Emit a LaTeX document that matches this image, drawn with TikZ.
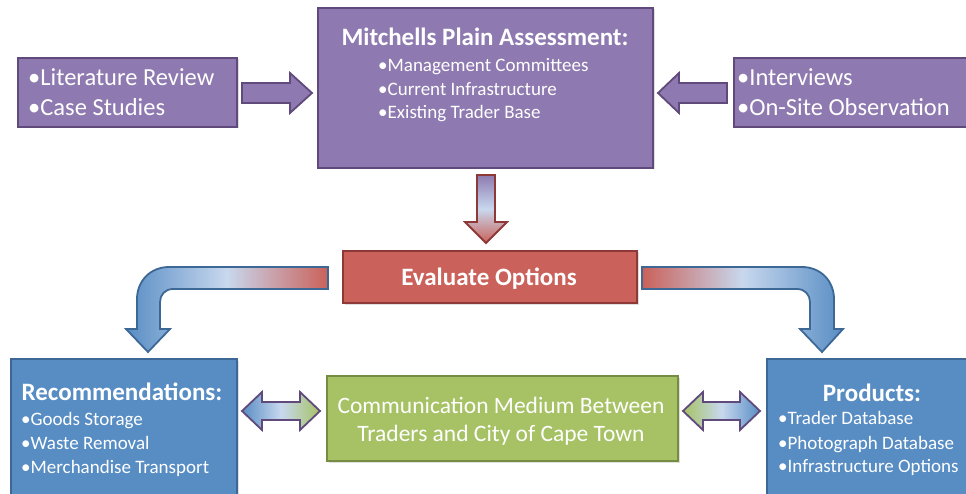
\documentclass[tikz,border=0pt]{standalone}
\usepackage{fontspec}
\setmainfont{Carlito}
\usetikzlibrary{shadows}
\definecolor{pfill}{RGB}{142,122,176}
\definecolor{pline}{RGB}{96,74,123}
\definecolor{rfill}{RGB}{202,97,90}
\definecolor{rline}{RGB}{140,57,55}
\definecolor{bfill}{RGB}{88,141,196}
\definecolor{bline}{RGB}{61,104,150}
\definecolor{gfill}{RGB}{166,194,100}
\definecolor{gline}{RGB}{118,140,66}
\definecolor{lite}{RGB}{200,216,238}
\tikzset{
  boxbase/.style={rectangle, inner sep=0pt, line width=2pt, anchor=north west,
    drop shadow={shadow xshift=1.5pt, shadow yshift=-1.5pt, opacity=0.25}},
  pbox/.style={boxbase, fill=pfill, draw=pline},
  rbox/.style={boxbase, fill=rfill, draw=rline},
  bbox/.style={boxbase, fill=bfill, draw=bline},
  gbox/.style={boxbase, fill=gfill, draw=gline},
  big/.style={text=white, font=\fontsize{24.5}{28}\selectfont, inner sep=0pt, anchor=base west},
  small/.style={text=white, font=\fontsize{19}{22}\selectfont, inner sep=0pt, anchor=base west},
  ttl/.style={text=white, font=\fontsize{25}{29}\selectfont\bfseries, inner sep=0pt, anchor=base},
  mid/.style={text=white, font=\fontsize{23.5}{28}\selectfont, inner sep=0pt, anchor=base},
  parrow/.style={fill=pfill, draw=pline, line width=1.8pt},
  darrow/.style={draw=pline, line width=1.8pt},
  barrow/.style={draw=bline, line width=1.8pt},
}
\begin{document}
\begin{tikzpicture}[x=1pt, y=-1pt]
\useasboundingbox (0,0) rectangle (966,494);
\fill[white] (0,0) rectangle (966,494);
\clip (0,0) rectangle (966,494);

% top row boxes
\node[pbox, minimum width=219, minimum height=69] (lit) at (17,57) {};
\node[big] (litA) at (28,85.5) {•Literature Review};
\node[big] (litB) at (28,115.5) {•Case Studies};

\node[pbox, minimum width=335, minimum height=160] (mp) at (317,7) {};
\node[ttl] (mpT) at (485,46) {Mitchells Plain Assessment:};
\node[small] (mpA) at (378,72) {•Management Committees};
\node[small] (mpB) at (378,95.5) {•Current Infrastructure};
\node[small] (mpC) at (378,119) {•Existing Trader Base};

\node[pbox, minimum width=240, minimum height=69] (int) at (733,57) {};
\node[big] (intA) at (737,86) {•Interviews};
\node[big] (intB) at (737,116) {•On-Site Observation};

% arrows into assessment
\path[parrow] (242,83) -- (290,83) -- (290,73) -- (312,93) -- (290,113) -- (290,103) -- (242,103) -- cycle;
\path[parrow] (727,83) -- (679,83) -- (679,73) -- (658,93) -- (679,113) -- (679,103) -- (727,103) -- cycle;

% down arrow
\path[draw=rline, line width=1.8pt, top color=pfill, bottom color=rfill, middle color=lite]
  (477,175) -- (495,175) -- (495,222) -- (507,222) -- (486,243) -- (465,222) -- (477,222) -- cycle;

% evaluate
\node[rbox, minimum width=294, minimum height=52] (ev) at (342,250) {};
\node[ttl] (evT) at (489,285) {Evaluate Options};

% bent arrows
\path[barrow, left color=bfill, right color=rfill, middle color=lite]
  (328,267) -- (169,267) .. controls (150.2,267) and (137,281.3) .. (137,299) -- (137,329) -- (126,329) -- (148,352) -- (170,329) -- (160,329) -- (160,302) .. controls (160,294.8) and (165.2,289) .. (173,289) -- (328,289) -- cycle;
\path[barrow, left color=rfill, right color=bfill, middle color=lite]
  (642,267) -- (802,267) .. controls (820.8,267) and (834,281.3) .. (834,299) -- (834,329) -- (843,329) -- (822,352) -- (800,329) -- (810,329) -- (810,302) .. controls (810,294.8) and (804.8,289) .. (797,289) -- (642,289) -- cycle;

% bottom boxes
\node[bbox, minimum width=226, minimum height=150] (rec) at (10,358) {};
\node[ttl] (recT) at (122,400) {Recommendations:};
\node[small] (recA) at (21,425) {•Goods Storage};
\node[small] (recB) at (21,449) {•Waste Removal};
\node[small] (recC) at (21,473) {•Merchandise Transport};

\node[gbox, minimum width=351, minimum height=85] (com) at (326,375) {};
\node[mid] (comA) at (501,413) {Communication Medium Between};
\node[mid] (comB) at (501,441) {Traders and City of Cape Town};

\node[bbox, minimum width=220, minimum height=150] (prod) at (766,358) {};
\node[ttl] (prodT) at (872,401) {Products:};
\node[small] (prodA) at (778,424.5) {•Trader Database};
\node[small] (prodB) at (778,449) {•Photograph Database};
\node[small] (prodC) at (778,472.5) {•Infrastructure Options};

% double arrows
\path[darrow, left color=bfill, right color=gfill, middle color=lite]
  (242,411) -- (262,392) -- (262,402) -- (300,402) -- (300,392) -- (320,411) -- (300,430) -- (300,420) -- (262,420) -- (262,430) -- cycle;
\path[darrow, left color=gfill, right color=bfill, middle color=lite]
  (683,411) -- (703,392) -- (703,402) -- (740,402) -- (740,392) -- (760,411) -- (740,430) -- (740,420) -- (703,420) -- (703,430) -- cycle;
\end{tikzpicture}
\end{document}
